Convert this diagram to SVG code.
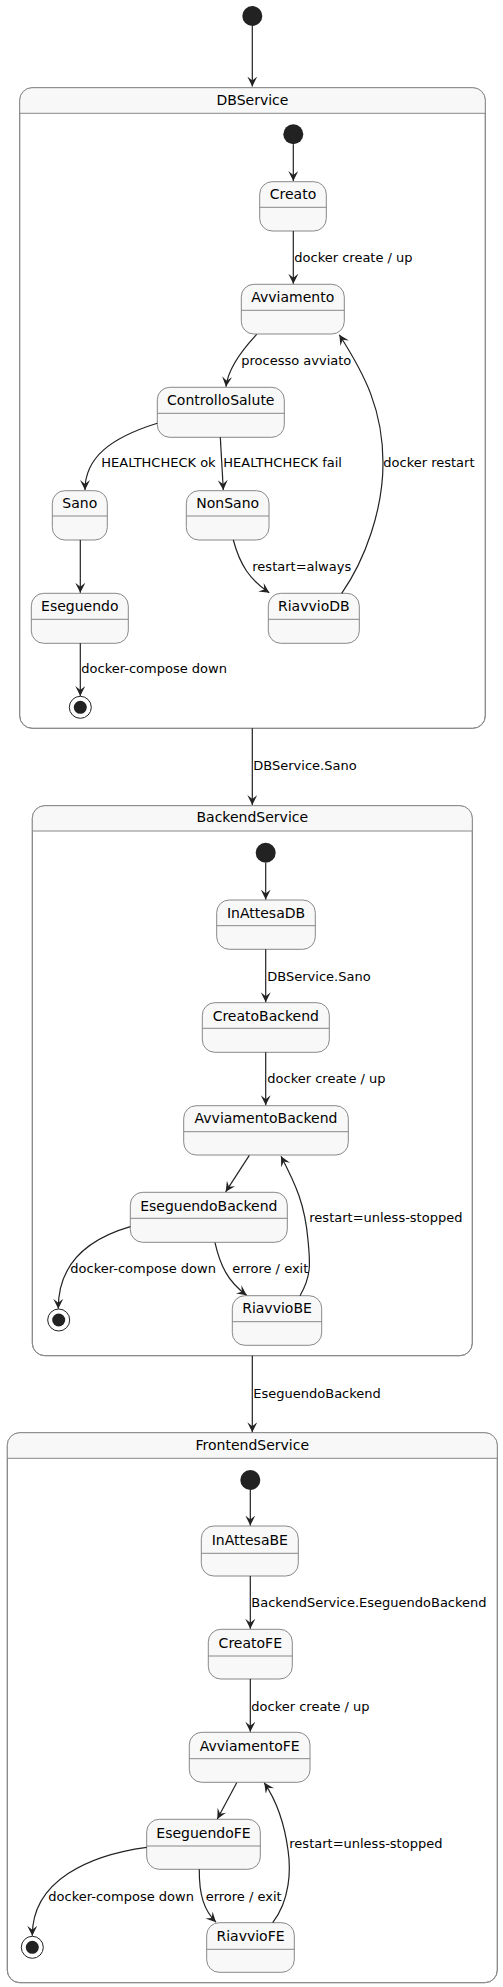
<svg xmlns="http://www.w3.org/2000/svg" width="503" height="1987" viewBox="0 0 503 1987">
<style>
.bg{fill:#FFFFFF}
.cont{fill:#FFFFFF;stroke:#888888;stroke-width:1}
.hdr{fill:#F8F8F8;stroke:none}
.frame{fill:none;stroke:#888888;stroke-width:1}
.st{fill:#F8F8F8;stroke:#888888;stroke-width:1}
.div{stroke:#888888;stroke-width:1}
.nt{font-family:"DejaVu Sans","Liberation Sans",sans-serif;font-size:14px;fill:#000;text-anchor:middle}
.lb{font-family:"DejaVu Sans","Liberation Sans",sans-serif;font-size:13px;fill:#000}
.init{fill:#222222}
.fin{fill:none;stroke:#222222;stroke-width:1}
.e{fill:none;stroke:#222222;stroke-width:1.2;marker-end:url(#ah)}
</style>
<defs>
<marker id="ah" markerUnits="userSpaceOnUse" viewBox="0 0 10 10" refX="10" refY="5" markerWidth="10" markerHeight="10" orient="auto">
<path d="M0,0 L10,5 L0,10 L4,5 z" fill="#222222"/>
</marker>
</defs>
<rect class="bg" x="0" y="0" width="503" height="1987"/>

<!-- Containers -->
<g id="DBService">
<rect class="cont" x="19.7" y="87.7" width="465.6" height="640.6" rx="12.5"/>
<path class="hdr" d="M19.7,113.3 V100.2 A12.5,12.5 0 0 1 32.2,87.7 H472.8 A12.5,12.5 0 0 1 485.3,100.2 V113.3 Z"/>
<rect class="frame" x="19.7" y="87.7" width="465.6" height="640.6" rx="12.5"/>
<line class="div" x1="19.7" y1="113.3" x2="485.3" y2="113.3"/>
<text class="nt" x="252.5" y="104.5">DBService</text>
</g>
<g id="BackendService">
<rect class="cont" x="32.3" y="805.7" width="440" height="550" rx="12.5"/>
<path class="hdr" d="M32.3,831 V818.2 A12.5,12.5 0 0 1 44.8,805.7 H459.8 A12.5,12.5 0 0 1 472.3,818.2 V831 Z"/>
<rect class="frame" x="32.3" y="805.7" width="440" height="550" rx="12.5"/>
<line class="div" x1="32.3" y1="831" x2="472.3" y2="831"/>
<text class="nt" x="252.3" y="822.3">BackendService</text>
</g>
<g id="FrontendService">
<rect class="cont" x="7.3" y="1432.7" width="490" height="550" rx="12.5"/>
<path class="hdr" d="M7.3,1458.3 V1445.2 A12.5,12.5 0 0 1 19.8,1432.7 H484.8 A12.5,12.5 0 0 1 497.3,1445.2 V1458.3 Z"/>
<rect class="frame" x="7.3" y="1432.7" width="490" height="550" rx="12.5"/>
<line class="div" x1="7.3" y1="1458.3" x2="497.3" y2="1458.3"/>
<text class="nt" x="252.3" y="1450">FrontendService</text>
</g>

<!-- Pseudo states -->
<g id="start_top"><circle class="init" cx="252.3" cy="16" r="10"/></g>
<g id="db_start"><circle class="init" cx="293.3" cy="134.3" r="10"/></g>
<g id="db_end"><circle class="fin" cx="80.3" cy="707.3" r="11"/><circle class="init" cx="80.3" cy="707.3" r="6.5"/></g>
<g id="be_start"><circle class="init" cx="265.7" cy="852.7" r="10"/></g>
<g id="be_end"><circle class="fin" cx="58.7" cy="1320" r="11"/><circle class="init" cx="58.7" cy="1320" r="6.5"/></g>
<g id="fe_start"><circle class="init" cx="250.3" cy="1480" r="10"/></g>
<g id="fe_end"><circle class="fin" cx="32.3" cy="1947.3" r="11"/><circle class="init" cx="32.3" cy="1947.3" r="6.5"/></g>

<!-- DB states -->
<g id="Creato">
<rect class="st" x="259.7" y="181.7" width="66.6" height="49.3" rx="12.5"/>
<line class="div" x1="259.7" y1="207.3" x2="326.3" y2="207.3"/>
<text class="nt" x="293" y="199">Creato</text>
</g>
<g id="Avviamento">
<rect class="st" x="241.3" y="284.3" width="103" height="49.7" rx="12.5"/>
<line class="div" x1="241.3" y1="310.3" x2="344.3" y2="310.3"/>
<text class="nt" x="292.8" y="301.7">Avviamento</text>
</g>
<g id="ControlloSalute">
<rect class="st" x="157.3" y="387.3" width="127" height="50" rx="12.5"/>
<line class="div" x1="157.3" y1="413.3" x2="284.3" y2="413.3"/>
<text class="nt" x="220.8" y="405">ControlloSalute</text>
</g>
<g id="Sano">
<rect class="st" x="52.3" y="490.7" width="55" height="49.3" rx="12.5"/>
<line class="div" x1="52.3" y1="516" x2="107.3" y2="516"/>
<text class="nt" x="79.8" y="508.3">Sano</text>
</g>
<g id="NonSano">
<rect class="st" x="186.3" y="490.7" width="82.7" height="49.3" rx="12.5"/>
<line class="div" x1="186.3" y1="516" x2="269" y2="516"/>
<text class="nt" x="227.7" y="508.3">NonSano</text>
</g>
<g id="Eseguendo">
<rect class="st" x="31.3" y="593.3" width="97" height="50" rx="12.5"/>
<line class="div" x1="31.3" y1="619.3" x2="128.3" y2="619.3"/>
<text class="nt" x="79.8" y="611">Eseguendo</text>
</g>
<g id="RiavvioDB">
<rect class="st" x="268.3" y="593.3" width="91" height="50" rx="12.5"/>
<line class="div" x1="268.3" y1="619.3" x2="359.3" y2="619.3"/>
<text class="nt" x="313.8" y="611">RiavvioDB</text>
</g>

<!-- Backend states -->
<g id="InAttesaDB">
<rect class="st" x="216.7" y="900" width="98.6" height="49.3" rx="12.5"/>
<line class="div" x1="216.7" y1="925.7" x2="315.3" y2="925.7"/>
<text class="nt" x="266" y="917.7">InAttesaDB</text>
</g>
<g id="CreatoBackend">
<rect class="st" x="202.3" y="1002.7" width="127" height="49.6" rx="12.5"/>
<line class="div" x1="202.3" y1="1028.3" x2="329.3" y2="1028.3"/>
<text class="nt" x="265.8" y="1020.5">CreatoBackend</text>
</g>
<g id="AvviamentoBackend">
<rect class="st" x="183.7" y="1105.7" width="164.6" height="49.3" rx="12.5"/>
<line class="div" x1="183.7" y1="1131.7" x2="348.3" y2="1131.7"/>
<text class="nt" x="266" y="1123.3">AvviamentoBackend</text>
</g>
<g id="EseguendoBackend">
<rect class="st" x="130.3" y="1192.3" width="157" height="50" rx="12.5"/>
<line class="div" x1="130.3" y1="1218.3" x2="287.3" y2="1218.3"/>
<text class="nt" x="208.8" y="1210.7">EseguendoBackend</text>
</g>
<g id="RiavvioBE">
<rect class="st" x="232.3" y="1295.7" width="89.4" height="49.6" rx="12.5"/>
<line class="div" x1="232.3" y1="1321.7" x2="321.7" y2="1321.7"/>
<text class="nt" x="277" y="1313.3">RiavvioBE</text>
</g>

<!-- Frontend states -->
<g id="InAttesaBE">
<rect class="st" x="201.3" y="1526" width="97" height="50" rx="12.5"/>
<line class="div" x1="201.3" y1="1553.3" x2="298.3" y2="1553.3"/>
<text class="nt" x="249.8" y="1545">InAttesaBE</text>
</g>
<g id="CreatoFE">
<rect class="st" x="208.3" y="1629.3" width="84" height="49.7" rx="12.5"/>
<line class="div" x1="208.3" y1="1656" x2="292.3" y2="1656"/>
<text class="nt" x="250.3" y="1648">CreatoFE</text>
</g>
<g id="AvviamentoFE">
<rect class="st" x="189.3" y="1732.3" width="120.7" height="50" rx="12.5"/>
<line class="div" x1="189.3" y1="1758.7" x2="310" y2="1758.7"/>
<text class="nt" x="249.7" y="1750.7">AvviamentoFE</text>
</g>
<g id="EseguendoFE">
<rect class="st" x="146.7" y="1819.3" width="113.6" height="50" rx="12.5"/>
<line class="div" x1="146.7" y1="1846" x2="260.3" y2="1846"/>
<text class="nt" x="203.5" y="1837.7">EseguendoFE</text>
</g>
<g id="RiavvioFE">
<rect class="st" x="206.7" y="1922.7" width="87.6" height="49.6" rx="12.5"/>
<line class="div" x1="206.7" y1="1949.3" x2="294.3" y2="1949.3"/>
<text class="nt" x="250.5" y="1940.7">RiavvioFE</text>
</g>

<!-- Connectors -->
<g id="connectors">
<path class="e" d="M252.3,26 L252.3,86.5"/>
<path class="e" d="M293.3,144.3 L293.3,181"/>
<path class="e" d="M293.3,231 L293.3,283.8"/>
<path class="e" d="M256.7,334.3 C 242,350 228,368 226,386.7"/>
<path class="e" d="M157.3,423.3 C 110,438 85,458 85,490"/>
<path class="e" d="M220.3,437.3 L223.3,490"/>
<path class="e" d="M80.3,540 L80.3,592.8"/>
<path class="e" d="M233.3,540 C 240,565 250,580 269.3,592.7"/>
<path class="e" d="M341.7,593.3 C 365,560 383,510 383,463 C 383,410 365,375 339.3,334.8"/>
<path class="e" d="M80.3,643.3 L80.3,696"/>

<path class="e" d="M252.3,728.3 L252.3,805"/>
<path class="e" d="M265.7,862.7 L265.7,899.5"/>
<path class="e" d="M265.7,949.3 L265.7,1002.2"/>
<path class="e" d="M265.7,1052.3 L265.7,1105.2"/>
<path class="e" d="M249.3,1155.3 L225.7,1191.8"/>
<path class="e" d="M130.3,1226.7 C 95,1237 58,1258 58.3,1308.8"/>
<path class="e" d="M215,1242.7 C 220,1265 228,1282 246.7,1295.2"/>
<path class="e" d="M300,1295.7 C 312,1275 310,1262 308,1240 C 305,1205 296,1185 281,1156.2"/>

<path class="e" d="M252.3,1355.7 L252.3,1432.2"/>
<path class="e" d="M250.3,1490 L250.3,1525.5"/>
<path class="e" d="M250.3,1576 L250.3,1628.8"/>
<path class="e" d="M250.3,1679 L250.3,1731.8"/>
<path class="e" d="M236.7,1782.8 L217.3,1819"/>
<path class="e" d="M146.7,1847.3 C 90,1855 32,1880 32.3,1935.8"/>
<path class="e" d="M199.3,1869.3 C 199,1895 204,1910 216,1922.2"/>
<path class="e" d="M272.7,1922.7 C 290,1900 291,1870 288,1850 C 284,1820 276,1800 264.3,1782.8"/>
</g>

<!-- Labels -->
<g id="labels">
<text class="lb" x="294.3" y="261.7">docker create / up</text>
<text class="lb" x="241.3" y="364.5">processo avviato</text>
<text class="lb" x="101.3" y="467.3">HEALTHCHECK ok</text>
<text class="lb" x="223.3" y="467.3">HEALTHCHECK fail</text>
<text class="lb" x="383.3" y="467.3">docker restart</text>
<text class="lb" x="252.3" y="570.7">restart=always</text>
<text class="lb" x="81.3" y="673.3">docker-compose down</text>
<text class="lb" x="253.3" y="770">DBService.Sano</text>
<text class="lb" x="267.3" y="980.7">DBService.Sano</text>
<text class="lb" x="267.3" y="1083.3">docker create / up</text>
<text class="lb" x="309.3" y="1221.7">restart=unless-stopped</text>
<text class="lb" x="70.3" y="1273.3">docker-compose down</text>
<text class="lb" x="232.3" y="1273.3">errore / exit</text>
<text class="lb" x="253.3" y="1398.3">EseguendoBackend</text>
<text class="lb" x="251.3" y="1607.3">BackendService.EseguendoBackend</text>
<text class="lb" x="251.3" y="1710.7">docker create / up</text>
<text class="lb" x="289.3" y="1848.3">restart=unless-stopped</text>
<text class="lb" x="48.3" y="1900.7">docker-compose down</text>
<text class="lb" x="205.7" y="1900.7">errore / exit</text>
</g>
</svg>
